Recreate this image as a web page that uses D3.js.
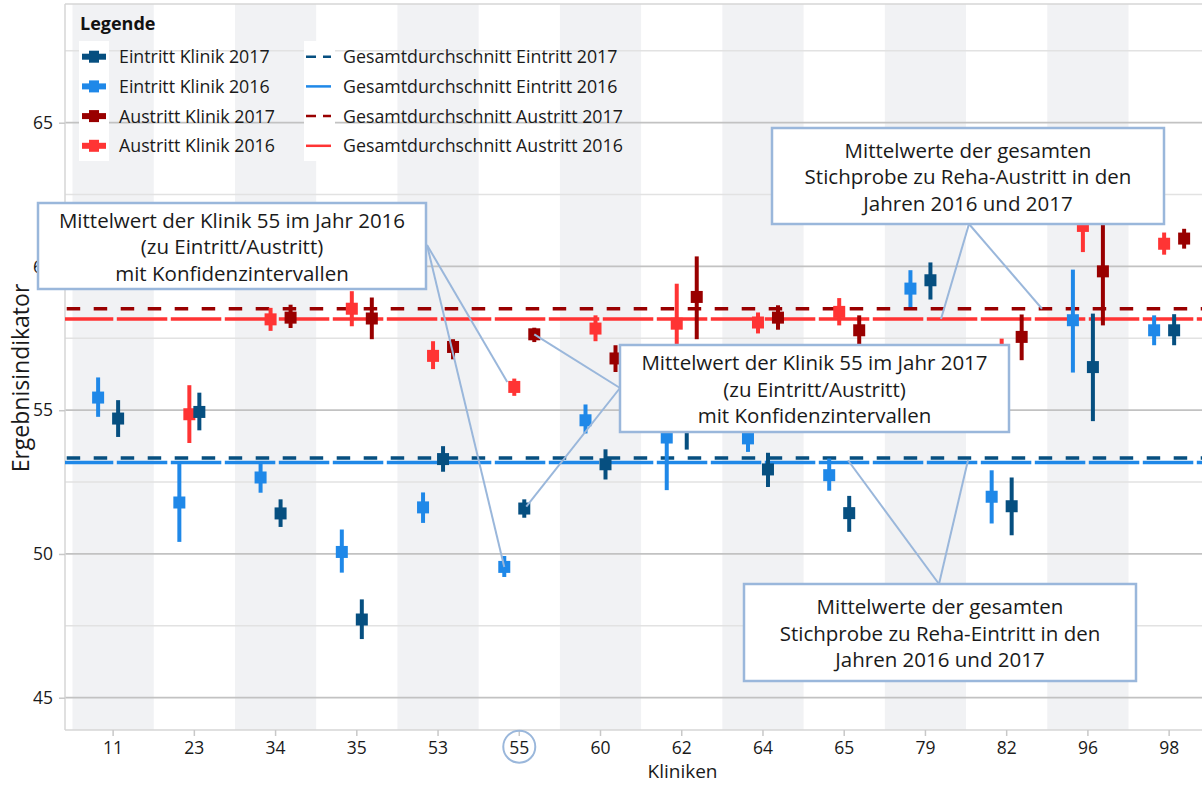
<!DOCTYPE html>
<html><head><meta charset="utf-8">
<script src="https://cdn.jsdelivr.net/npm/d3@7"></script>
<style>
body{margin:0;background:#fff}
svg{display:block;font-family:'Open Sans','Noto Sans',sans-serif}
</style>
</head><body>
<svg id="chart" width="1202" height="785"></svg>
<script>
// ---------- DATA ----------
const categories = ["11","23","34","35","53","55","60","62","64","65","79","82","96","98"];

const eintritt2016Mean = [55.44, 51.79, 52.66, 50.07, 51.62, 49.55, 54.65, 54.05, 54.02, 52.74, 59.23, 51.99, 58.13, 57.78];
const eintritt2016Low  = [54.77, 50.42, 52.13, 49.35, 51.08, 49.20, 54.19, 52.22, 53.55, 52.20, 58.59, 51.06, 56.31, 57.26];
const eintritt2016High = [56.14, 53.20, 53.15, 50.85, 52.14, 49.93, 55.20, 55.90, 54.50, 53.32, 59.87, 52.91, 59.89, 58.30];

const eintritt2017Mean = [54.71, 54.94, 51.41, 47.72, 53.30, 51.58, 53.12, 54.60, 52.94, 51.42, 59.52, 51.66, 56.50, 57.78];
const eintritt2017Low  = [54.07, 54.30, 50.94, 47.04, 52.86, 51.26, 52.59, 53.63, 52.33, 50.77, 58.85, 50.65, 54.62, 57.26];
const eintritt2017High = [55.35, 55.61, 51.90, 48.42, 53.75, 51.90, 53.64, 55.57, 53.52, 52.02, 60.14, 52.66, 58.36, 58.34];

const austritt2016Mean = [null, 54.86, 58.16, 58.53, 56.89, 55.81, 57.84, 58.01, 58.05, 58.42, null, 56.80, 61.41, 60.79];
const austritt2016Low  = [null, 53.86, 57.76, 57.92, 56.43, 55.50, 57.40, 56.60, 57.67, 57.95, null, 56.10, 60.50, 60.41];
const austritt2016High = [null, 55.87, 58.56, 59.14, 57.40, 56.10, 58.30, 59.40, 58.40, 58.90, null, 57.49, 62.30, 61.18];

const austritt2017Mean = [null, null, 58.22, 58.19, 57.20, 57.64, 56.80, 58.94, 58.22, 57.78, null, 57.55, 59.83, 60.97];
const austritt2017Low  = [null, null, 57.86, 57.47, 56.77, 57.37, 56.33, 57.47, 57.80, 57.26, null, 56.74, 57.95, 60.62];
const austritt2017High = [null, null, 58.67, 58.92, 57.47, 57.87, 57.26, 60.35, 58.65, 58.30, null, 58.33, 61.70, 61.31];

// overall averages (Gesamtdurchschnitt)
const avgEintritt2017 = 53.34;
const avgEintritt2016 = 53.18;
const avgAustritt2017 = 58.53;
const avgAustritt2016 = 58.17;

const yTicks = [45, 50, 55, 60, 65];
const yMinorTicks = [47.5, 52.5, 57.5, 62.5, 67.5];

const seriesNames = ["Eintritt Klinik 2016", "Austritt Klinik 2016", "Eintritt Klinik 2017", "Austritt Klinik 2017"];
const legendMarkerNames = ["Eintritt Klinik 2017", "Eintritt Klinik 2016", "Austritt Klinik 2017", "Austritt Klinik 2016"];
const legendLineNames = ["Gesamtdurchschnitt Eintritt 2017", "Gesamtdurchschnitt Eintritt 2016", "Gesamtdurchschnitt Austritt 2017", "Gesamtdurchschnitt Austritt 2016"];

const box1Lines = ["Mittelwert der Klinik 55 im Jahr 2016", "(zu Eintritt/Austritt)", "mit Konfidenzintervallen"];
const box2Lines = ["Mittelwert der Klinik 55 im Jahr 2017", "(zu Eintritt/Austritt)", "mit Konfidenzintervallen"];
const box3Lines = ["Mittelwerte der gesamten", "Stichprobe zu Reha-Austritt in den", "Jahren 2016 und 2017"];
const box4Lines = ["Mittelwerte der gesamten", "Stichprobe zu Reha-Eintritt in den", "Jahren 2016 und 2017"];

// ---------- STYLE ----------
const C = {
  "Eintritt Klinik 2016": "#1f88e8",
  "Eintritt Klinik 2017": "#064f80",
  "Austritt Klinik 2016": "#ff3434",
  "Austritt Klinik 2017": "#990000"
};
const calloutColor = "#9ab7db";
const textColor = "#1a1a1a";

const svg = d3.select("#chart");
const L = 65, T = 4, B = 730, R = 1202;

const y = d3.scaleLinear().domain([43.877, 69.129]).range([B, T]);
const x = d3.scaleBand().domain(categories).range([72.5, 1209.75]).padding(0);
const sub = d3.scaleBand().domain(seriesNames).range([-20, 20]);
const cx = (cat, s) => x(cat) + x.bandwidth() / 2 + sub(s) + sub.bandwidth() / 2;

// alternating bands
svg.append("g").selectAll("rect")
  .data(categories.filter((d, i) => i % 2 === 0))
  .join("rect")
  .attr("x", d => x(d)).attr("width", x.bandwidth())
  .attr("y", T).attr("height", B - T)
  .attr("fill", "#f1f2f4");

// gridlines
svg.append("g").selectAll("line").data(yMinorTicks).join("line")
  .attr("x1", L).attr("x2", R).attr("y1", d => y(d)).attr("y2", d => y(d))
  .attr("stroke", "#e2e2e2").attr("stroke-width", 1.5);
svg.append("g").selectAll("line").data(yTicks).join("line")
  .attr("x1", L).attr("x2", R).attr("y1", d => y(d)).attr("y2", d => y(d))
  .attr("stroke", "#c2c2c2").attr("stroke-width", 1.7);

// frame
svg.append("line").attr("x1", L).attr("x2", R).attr("y1", T).attr("y2", T).attr("stroke", "#d6d6d6").attr("stroke-width", 1.5);
svg.append("line").attr("x1", L).attr("x2", L).attr("y1", T).attr("y2", B).attr("stroke", "#d6d6d6").attr("stroke-width", 1.5);
svg.append("line").attr("x1", L).attr("x2", R).attr("y1", B).attr("y2", B).attr("stroke", "#d6d6d6").attr("stroke-width", 1.5);

// y axis
const yAxis = svg.append("g").attr("transform", `translate(${L},0)`)
  .call(d3.axisLeft(y).tickValues(yTicks).tickSize(6).tickPadding(6).tickFormat(d3.format("d")));
yAxis.select(".domain").remove();
yAxis.selectAll("line").attr("stroke", "#c8c8c8").attr("stroke-width", 1.5);
yAxis.selectAll("text").attr("font-size", 17.5).attr("fill", textColor).attr("font-family", "'Open Sans',sans-serif");

// x axis
const xAxis = svg.append("g").attr("transform", `translate(0,${B})`)
  .call(d3.axisBottom(x).tickSize(6).tickPadding(6));
xAxis.select(".domain").remove();
xAxis.selectAll("line").attr("stroke", "#c8c8c8").attr("stroke-width", 1.5);
xAxis.selectAll("text").attr("font-size", 17.5).attr("fill", textColor).attr("font-family", "'Open Sans',sans-serif");

// axis titles
svg.append("text").attr("transform", "translate(28.5,378) rotate(-90)")
  .attr("text-anchor", "middle").attr("font-size", 23).attr("fill", textColor)
  .text("Ergebnisindikator");
svg.append("text").attr("x", 682.5).attr("y", 778)
  .attr("text-anchor", "middle").attr("font-size", 19).attr("fill", textColor)
  .text("Kliniken");

// circle around 55
svg.append("circle").attr("cx", x("55") + x.bandwidth() / 2).attr("cy", 746.7).attr("r", 16)
  .attr("fill", "none").attr("stroke", calloutColor).attr("stroke-width", 2);

// average lines
const avgLines = [
  {v: avgEintritt2016, c: C["Eintritt Klinik 2016"], dash: "50.5,3.5", off: 2.2},
  {v: avgEintritt2017, c: C["Eintritt Klinik 2017"], dash: "13.5,13.5", off: -1.7},
  {v: avgAustritt2016, c: C["Austritt Klinik 2016"], dash: "50.5,3.5", off: 2.2},
  {v: avgAustritt2017, c: C["Austritt Klinik 2017"], dash: "13.5,13.5", off: -1.7}
];
svg.append("g").selectAll("line").data(avgLines).join("line")
  .attr("x1", L).attr("x2", R).attr("y1", d => y(d.v)).attr("y2", d => y(d.v))
  .attr("stroke", d => d.c).attr("stroke-width", 3.5)
  .attr("stroke-dasharray", d => d.dash).attr("stroke-dashoffset", d => d.off);

// markers
const series = [
  {name: "Eintritt Klinik 2016", m: eintritt2016Mean, lo: eintritt2016Low, hi: eintritt2016High},
  {name: "Austritt Klinik 2016", m: austritt2016Mean, lo: austritt2016Low, hi: austritt2016High},
  {name: "Eintritt Klinik 2017", m: eintritt2017Mean, lo: eintritt2017Low, hi: eintritt2017High},
  {name: "Austritt Klinik 2017", m: austritt2017Mean, lo: austritt2017Low, hi: austritt2017High}
];
const ms = 12;
series.forEach(s => {
  const pts = categories.map((c, i) => ({c, m: s.m[i], lo: s.lo[i], hi: s.hi[i]})).filter(d => d.m != null);
  const g = svg.append("g");
  g.selectAll("line").data(pts).join("line")
    .attr("x1", d => cx(d.c, s.name)).attr("x2", d => cx(d.c, s.name))
    .attr("y1", d => y(d.lo)).attr("y2", d => y(d.hi))
    .attr("stroke", C[s.name]).attr("stroke-width", 4);
  g.selectAll("rect").data(pts).join("rect")
    .attr("x", d => cx(d.c, s.name) - ms / 2).attr("y", d => y(d.m) - ms / 2)
    .attr("width", ms).attr("height", ms).attr("fill", C[s.name]);
});

// legend
svg.append("text").attr("x", 80).attr("y", 30).attr("font-size", 18).attr("font-weight", "bold")
  .attr("fill", "#111").text("Legende");
svg.append("rect").attr("x", 79).attr("y", 41).attr("width", 30).attr("height", 120).attr("fill", "#fff");
svg.append("rect").attr("x", 304).attr("y", 41).attr("width", 31).attr("height", 120).attr("fill", "#fff");
const rowY = [56.7, 86.4, 116.1, 145.8];
legendMarkerNames.forEach((n, i) => {
  svg.append("rect").attr("x", 82).attr("y", rowY[i] - 3).attr("width", 24).attr("height", 6).attr("fill", C[n]);
  svg.append("rect").attr("x", 89).attr("y", rowY[i] - 6).attr("width", 10).attr("height", 12).attr("fill", C[n]);
  svg.append("text").attr("x", 119).attr("y", rowY[i] + 6.5).attr("font-size", 17.8).attr("fill", textColor).text(n);
});
const legendLineColors = [C["Eintritt Klinik 2017"], C["Eintritt Klinik 2016"], C["Austritt Klinik 2017"], C["Austritt Klinik 2016"]];
legendLineNames.forEach((n, i) => {
  svg.append("line").attr("x1", 306).attr("x2", 331).attr("y1", rowY[i]).attr("y2", rowY[i])
    .attr("stroke", legendLineColors[i]).attr("stroke-width", 2.5)
    .attr("stroke-dasharray", i % 2 === 0 ? "10,7" : null);
  svg.append("text").attr("x", 343).attr("y", rowY[i] + 6.5).attr("font-size", 17.8).attr("fill", textColor).text(n);
});

// callouts
function callout(box, lines, origin, targets) {
  const g = svg.append("g");
  targets.forEach(t => {
    g.append("line").attr("x1", origin[0]).attr("y1", origin[1]).attr("x2", t[0]).attr("y2", t[1])
      .attr("stroke", calloutColor).attr("stroke-width", 2);
  });
  g.append("rect").attr("x", box.x).attr("y", box.y).attr("width", box.w).attr("height", box.h)
    .attr("fill", "#fff").attr("stroke", calloutColor).attr("stroke-width", 2.5);
  const mid = box.y + box.h / 2;
  lines.forEach((l, i) => {
    g.append("text").attr("x", box.x + box.w / 2).attr("y", mid + 8 + (i - 1) * 26.5)
      .attr("text-anchor", "middle").attr("font-size", 20.5).attr("fill", textColor).text(l);
  });
}
const i55 = categories.indexOf("55");
callout({x: 38, y: 203, w: 388, h: 86}, box1Lines, [427, 245], [
  [cx("55", "Austritt Klinik 2016") - 7, y(austritt2016Mean[i55]) - 5],
  [cx("55", "Eintritt Klinik 2016"), y(eintritt2016Mean[i55])]
]);
callout({x: 620, y: 345, w: 389, h: 87}, box2Lines, [620, 388], [
  [cx("55", "Austritt Klinik 2017"), y(austritt2017Mean[i55])],
  [cx("55", "Eintritt Klinik 2017") + 2, y(eintritt2017Mean[i55]) - 2]
]);
callout({x: 772, y: 128, w: 392, h: 96}, box3Lines, [969, 224], [
  [941, y(avgAustritt2016)],
  [1042, y(avgAustritt2017)]
]);
callout({x: 744, y: 584, w: 392, h: 97}, box4Lines, [939, 584], [
  [848, y((avgEintritt2016 + avgEintritt2017) / 2)],
  [968, y((avgEintritt2016 + avgEintritt2017) / 2)]
]);
</script>
</body></html>
